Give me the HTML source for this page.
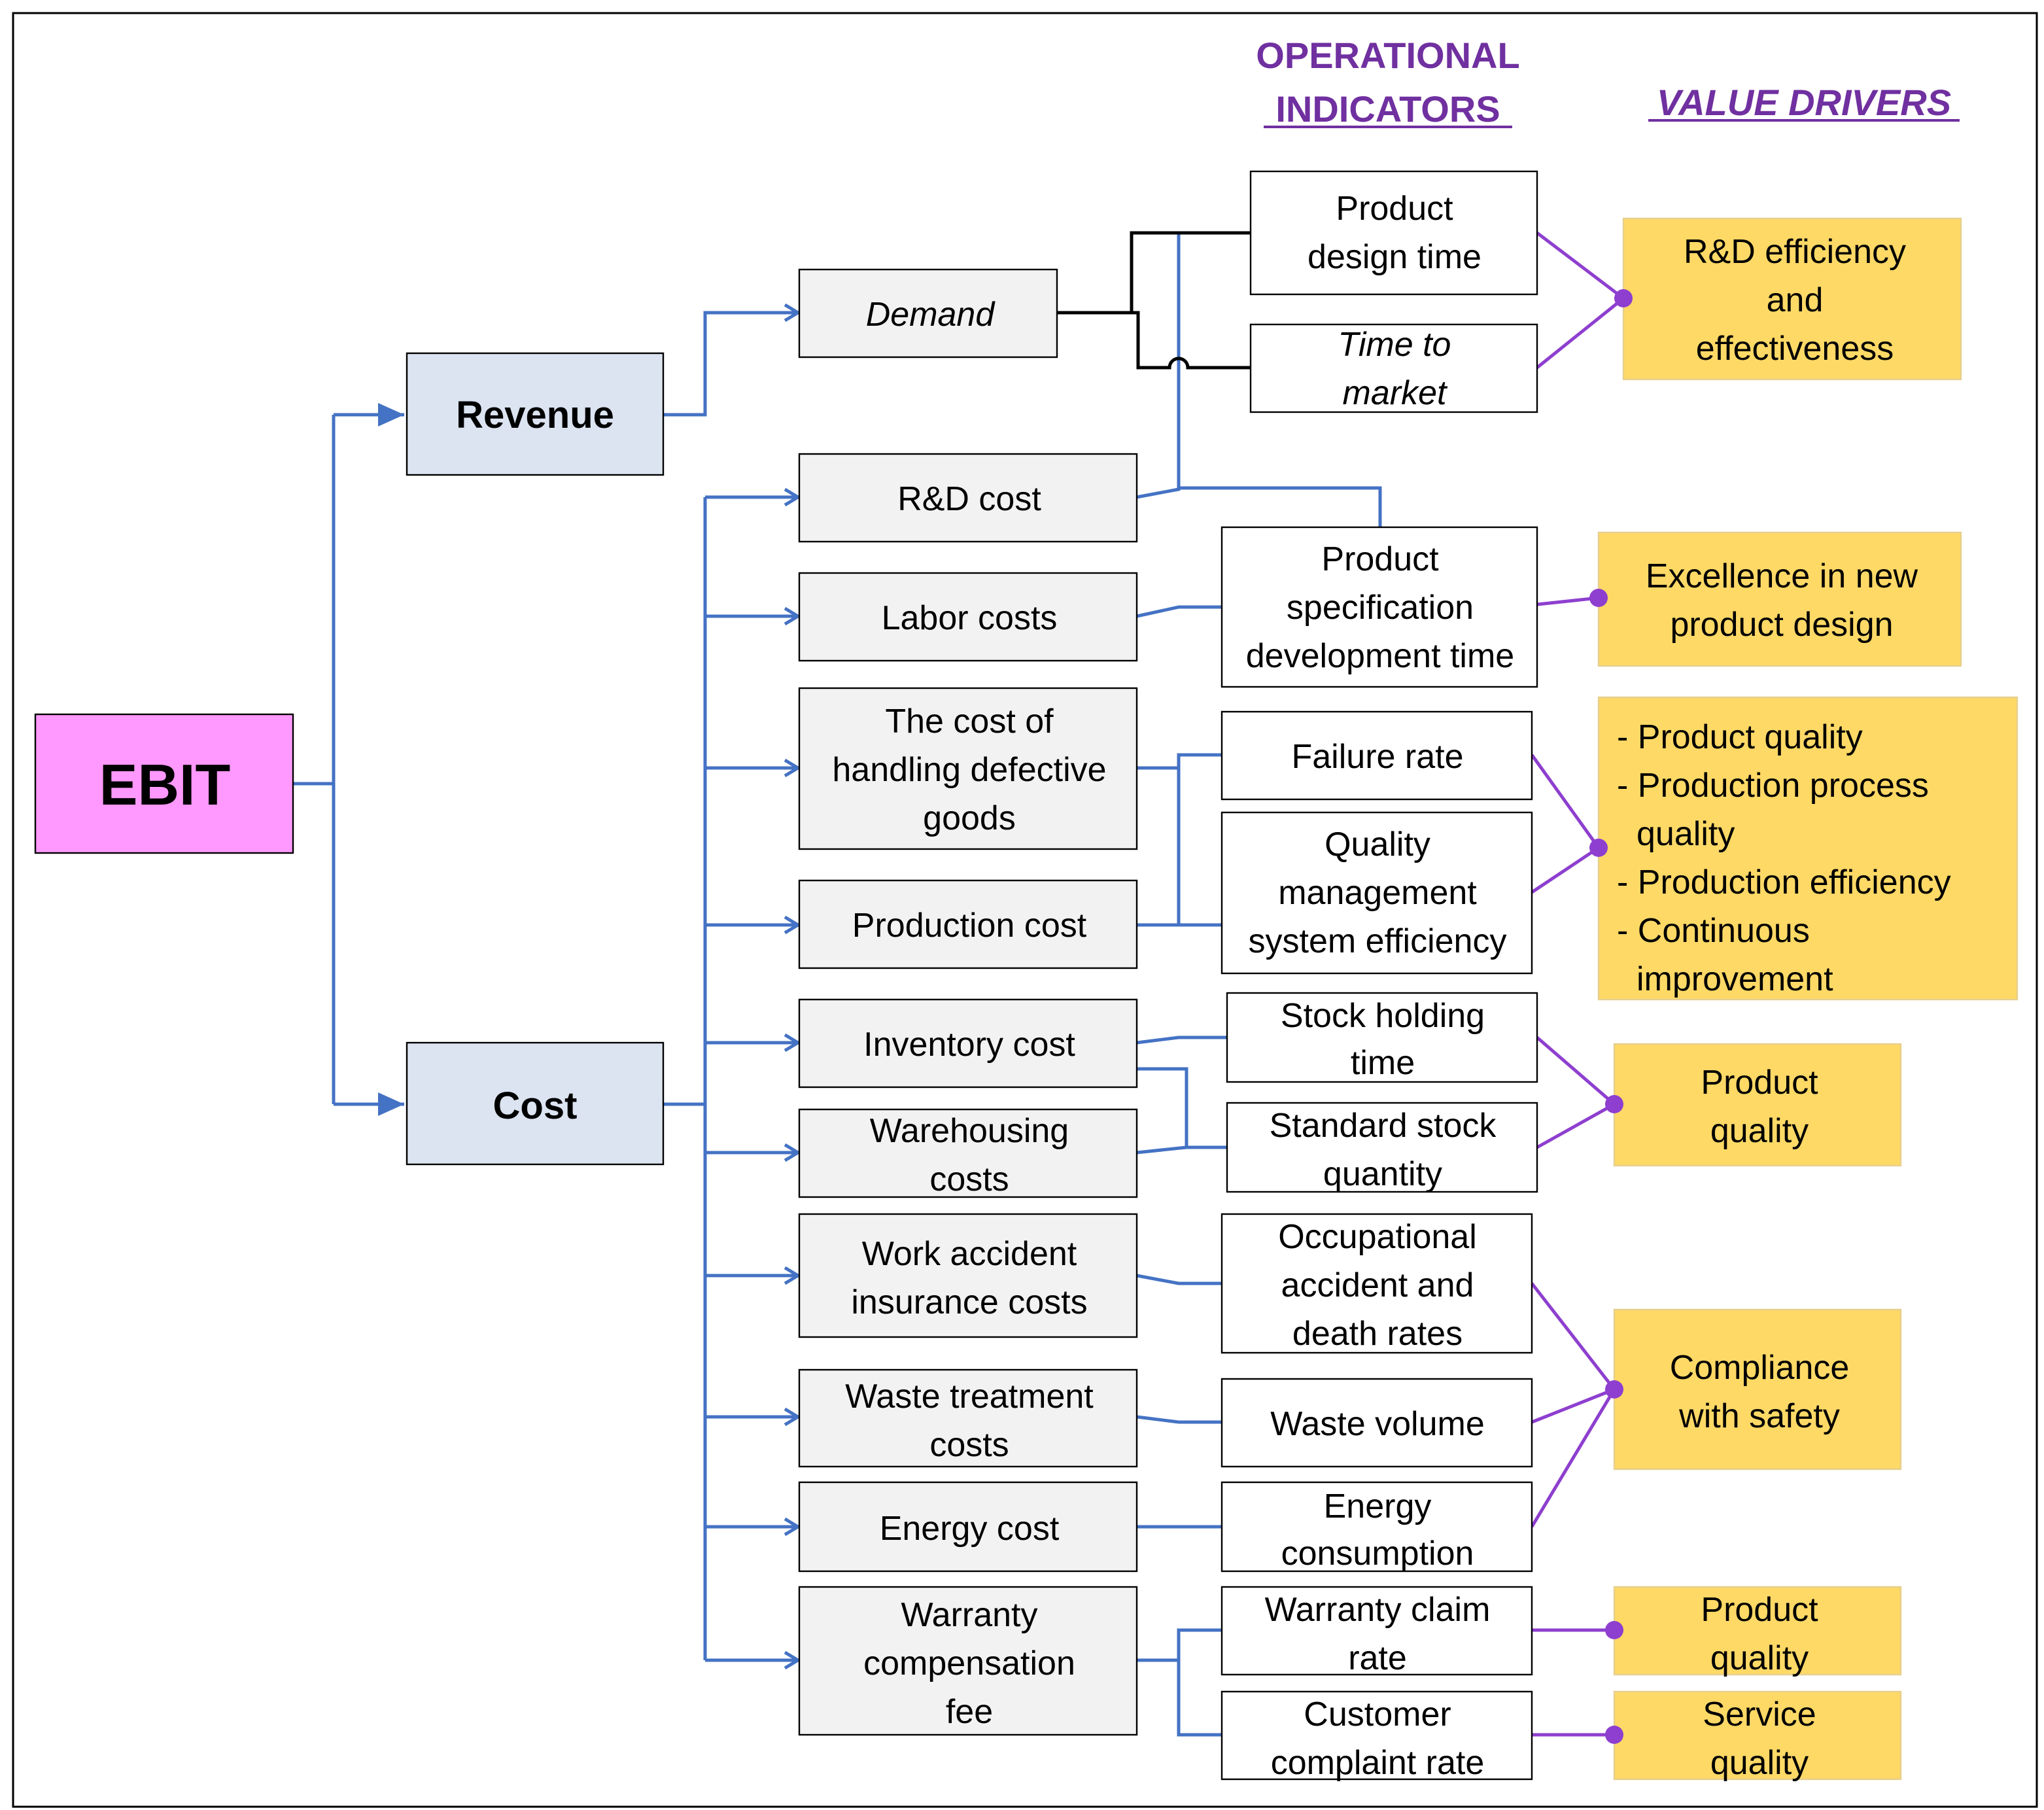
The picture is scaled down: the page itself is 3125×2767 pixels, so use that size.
<!DOCTYPE html>
<html><head><meta charset="utf-8"><style>
html,body{margin:0;padding:0;background:#fff}
svg{display:block}
text{font-family:"Liberation Sans",sans-serif;font-size:26px;fill:#000;text-anchor:middle}
.b{fill:#f2f2f2;stroke:#000;stroke-width:1.2}
.w{fill:#fff;stroke:#000;stroke-width:1.2}
.y{fill:#ffd966;stroke:#e6cf8f;stroke-width:1.2}
.bl{fill:none;stroke:#4472c4;stroke-width:2.5}
.pu{fill:none;stroke:#8e3fcf;stroke-width:2.5}
.k{fill:none;stroke:#000;stroke-width:2.5}
.h{fill:#7030a0;font-weight:bold;font-size:28px}
</style></head><body>
<svg width="3125" height="2767" viewBox="0 0 1562.5 1383.5" xmlns="http://www.w3.org/2000/svg">
<defs>
<marker id="ch" markerWidth="14" markerHeight="14" refX="12" refY="7" orient="auto" markerUnits="userSpaceOnUse"><path d="M2,1 L12,7 L2,13" fill="none" stroke="#4472c4" stroke-width="2.5"/></marker>
<marker id="tr" markerWidth="22" markerHeight="20" refX="20" refY="10" orient="auto" markerUnits="userSpaceOnUse"><path d="M0,1 L20,10 L0,19 Z" fill="#4472c4"/></marker>
</defs>
<rect x="10" y="10" width="1547" height="1371" fill="none" stroke="#000" stroke-width="1.5"/>
<!-- headers -->
<text class="h" x="1061" y="52">OPERATIONAL</text>
<text class="h" x="1061" y="93">INDICATORS</text>
<line x1="966" y1="97" x2="1156" y2="97" stroke="#7030a0" stroke-width="2"/>
<text class="h" x="1379" y="88" font-style="italic">VALUE DRIVERS</text>
<line x1="1260" y1="92" x2="1498" y2="92" stroke="#7030a0" stroke-width="2"/>

<!-- blue connectors -->
<polyline class="bl" points="224,599 255,599"/>
<polyline class="bl" points="255,317 255,844"/>
<line class="bl" x1="255" y1="317" x2="309" y2="317" marker-end="url(#tr)"/>
<line class="bl" x1="255" y1="844" x2="309" y2="844" marker-end="url(#tr)"/>
<polyline class="bl" points="507,317 539,317 539,239 610,239" marker-end="url(#ch)"/>
<polyline class="bl" points="507,844 539,844"/>
<line class="bl" x1="539" y1="380" x2="539" y2="1269"/>
<line class="bl" x1="539" y1="380" x2="610" y2="380" marker-end="url(#ch)"/>
<line class="bl" x1="539" y1="471" x2="610" y2="471" marker-end="url(#ch)"/>
<line class="bl" x1="539" y1="587" x2="610" y2="587" marker-end="url(#ch)"/>
<line class="bl" x1="539" y1="707" x2="610" y2="707" marker-end="url(#ch)"/>
<line class="bl" x1="539" y1="797" x2="610" y2="797" marker-end="url(#ch)"/>
<line class="bl" x1="539" y1="881" x2="610" y2="881" marker-end="url(#ch)"/>
<line class="bl" x1="539" y1="975" x2="610" y2="975" marker-end="url(#ch)"/>
<line class="bl" x1="539" y1="1083" x2="610" y2="1083" marker-end="url(#ch)"/>
<line class="bl" x1="539" y1="1167" x2="610" y2="1167" marker-end="url(#ch)"/>
<line class="bl" x1="539" y1="1269" x2="610" y2="1269" marker-end="url(#ch)"/>

<polyline class="bl" points="869,380 901,374 901,178"/>
<polyline class="bl" points="901,373 1055,373 1055,403"/>
<polyline class="bl" points="869,471 901,464 934,464"/>
<polyline class="bl" points="869,587 901,587"/>
<polyline class="bl" points="869,707 940,707"/>
<polyline class="bl" points="901,707 901,577 934,577"/>
<polyline class="bl" points="869,797 901,793 938,793"/>
<polyline class="bl" points="869,817 907,817 907,877 938,877"/>
<polyline class="bl" points="869,881 907,877"/>
<polyline class="bl" points="869,975 901,981 934,981"/>
<polyline class="bl" points="869,1083 901,1087 934,1087"/>
<polyline class="bl" points="869,1167 934,1167"/>
<polyline class="bl" points="869,1269 901,1269"/>
<polyline class="bl" points="934,1246 901,1246 901,1326 934,1326"/>

<!-- black connectors -->
<polyline class="k" points="808,239 865,239 865,178 956,178"/>
<path class="k" d="M865,239 L870,239 L870,281 L894,281 A7,7 0 0 1 908,281 L956,281"/>

<!-- purple -->
<polyline class="pu" points="1175,178 1241,228 1175,281"/>
<polyline class="pu" points="1175,462 1222,457"/>
<polyline class="pu" points="1171,577 1222,648 1171,682"/>
<polyline class="pu" points="1175,793 1234,844 1175,877"/>
<polyline class="pu" points="1171,981 1234,1062 1171,1087"/>
<polyline class="pu" points="1234,1062 1171,1167"/>
<polyline class="pu" points="1171,1246 1234,1246"/>
<polyline class="pu" points="1171,1326 1234,1326"/>

<!-- left boxes -->
<rect x="27" y="546" width="197" height="106" fill="#ff99ff" stroke="#000" stroke-width="1.2"/>
<text x="126" y="615" style="font-size:44px;font-weight:bold">EBIT</text>
<rect x="311" y="270" width="196" height="93" fill="#dce3f1" stroke="#000" stroke-width="1.2"/>
<text x="409" y="327" style="font-size:29px;font-weight:bold">Revenue</text>
<rect x="311" y="797" width="196" height="93" fill="#dce3f1" stroke="#000" stroke-width="1.2"/>
<text x="409" y="855" style="font-size:29px;font-weight:bold">Cost</text>

<!-- middle -->
<rect class="b" x="611" y="206" width="197" height="67"/><text x="711" y="249" font-style="italic">Demand</text>
<rect class="b" x="611" y="347" width="258" height="67"/><text x="741" y="390">R&amp;D cost</text>
<rect class="b" x="611" y="438" width="258" height="67"/><text x="741" y="481">Labor costs</text>
<rect class="b" x="611" y="526" width="258" height="123"/><text x="741" y="560">The cost of</text><text x="741" y="597">handling defective</text><text x="741" y="634">goods</text>
<rect class="b" x="611" y="673" width="258" height="67"/><text x="741" y="716">Production cost</text>
<rect class="b" x="611" y="764" width="258" height="67"/><text x="741" y="807">Inventory cost</text>
<rect class="b" x="611" y="848" width="258" height="67"/><text x="741" y="873">Warehousing</text><text x="741" y="910">costs</text>
<rect class="b" x="611" y="928" width="258" height="94"/><text x="741" y="967">Work accident</text><text x="741" y="1004">insurance costs</text>
<rect class="b" x="611" y="1047" width="258" height="74"/><text x="741" y="1076">Waste treatment</text><text x="741" y="1113">costs</text>
<rect class="b" x="611" y="1133" width="258" height="68"/><text x="741" y="1177">Energy cost</text>
<rect class="b" x="611" y="1213" width="258" height="113"/><text x="741" y="1243">Warranty</text><text x="741" y="1280">compensation</text><text x="741" y="1317">fee</text>

<!-- indicators -->
<rect class="w" x="956" y="131" width="219" height="94"/><text x="1066" y="168">Product</text><text x="1066" y="205">design time</text>
<rect class="w" x="956" y="248" width="219" height="67"/><text x="1066" y="272" font-style="italic">Time to</text><text x="1066" y="309" font-style="italic">market</text>
<rect class="w" x="934" y="403" width="241" height="122"/><text x="1055" y="436">Product</text><text x="1055" y="473">specification</text><text x="1055" y="510">development time</text>
<rect class="w" x="934" y="544" width="237" height="67"/><text x="1053" y="587">Failure rate</text>
<rect class="w" x="934" y="621" width="237" height="123"/><text x="1053" y="654">Quality</text><text x="1053" y="691">management</text><text x="1053" y="728">system efficiency</text>
<rect class="w" x="938" y="759" width="237" height="68"/><text x="1057" y="785">Stock holding</text><text x="1057" y="821">time</text>
<rect class="w" x="938" y="843" width="237" height="68"/><text x="1057" y="869">Standard stock</text><text x="1057" y="906">quantity</text>
<rect class="w" x="934" y="928" width="237" height="106"/><text x="1053" y="954">Occupational</text><text x="1053" y="991">accident and</text><text x="1053" y="1028">death rates</text>
<rect class="w" x="934" y="1054" width="237" height="67"/><text x="1053" y="1097">Waste volume</text>
<rect class="w" x="934" y="1133" width="237" height="68"/><text x="1053" y="1160">Energy</text><text x="1053" y="1196">consumption</text>
<rect class="w" x="934" y="1213" width="237" height="67"/><text x="1053" y="1239">Warranty claim</text><text x="1053" y="1276">rate</text>
<rect class="w" x="934" y="1293" width="237" height="67"/><text x="1053" y="1319">Customer</text><text x="1053" y="1356">complaint rate</text>

<!-- value drivers -->
<rect class="y" x="1241" y="167" width="258" height="123"/><text x="1372" y="201">R&amp;D efficiency</text><text x="1372" y="238">and</text><text x="1372" y="275">effectiveness</text>
<rect class="y" x="1222" y="407" width="277" height="102"/><text x="1362" y="449">Excellence in new</text><text x="1362" y="486">product design</text>
<rect class="y" x="1222" y="533" width="320" height="231"/>
<text x="1236" y="572" style="text-anchor:start">- Product quality</text>
<text x="1236" y="609" style="text-anchor:start">- Production process</text>
<text x="1251" y="646" style="text-anchor:start">quality</text>
<text x="1236" y="683" style="text-anchor:start">- Production efficiency</text>
<text x="1236" y="720" style="text-anchor:start">- Continuous</text>
<text x="1251" y="757" style="text-anchor:start">improvement</text>
<rect class="y" x="1234" y="798" width="219" height="93"/><text x="1345" y="836">Product</text><text x="1345" y="873">quality</text>
<rect class="y" x="1234" y="1001" width="219" height="122"/><text x="1345" y="1054">Compliance</text><text x="1345" y="1091">with safety</text>
<rect class="y" x="1234" y="1213" width="219" height="67"/><text x="1345" y="1239">Product</text><text x="1345" y="1276">quality</text>
<rect class="y" x="1234" y="1293" width="219" height="67"/><text x="1345" y="1319">Service</text><text x="1345" y="1356">quality</text>

<g fill="#8e3fcf">
<circle cx="1241" cy="228" r="7"/><circle cx="1222" cy="457" r="7"/><circle cx="1222" cy="648" r="7"/>
<circle cx="1234" cy="844" r="7"/><circle cx="1234" cy="1062" r="7"/><circle cx="1234" cy="1246" r="7"/><circle cx="1234" cy="1326" r="7"/>
</g>
</svg>
</body></html>
